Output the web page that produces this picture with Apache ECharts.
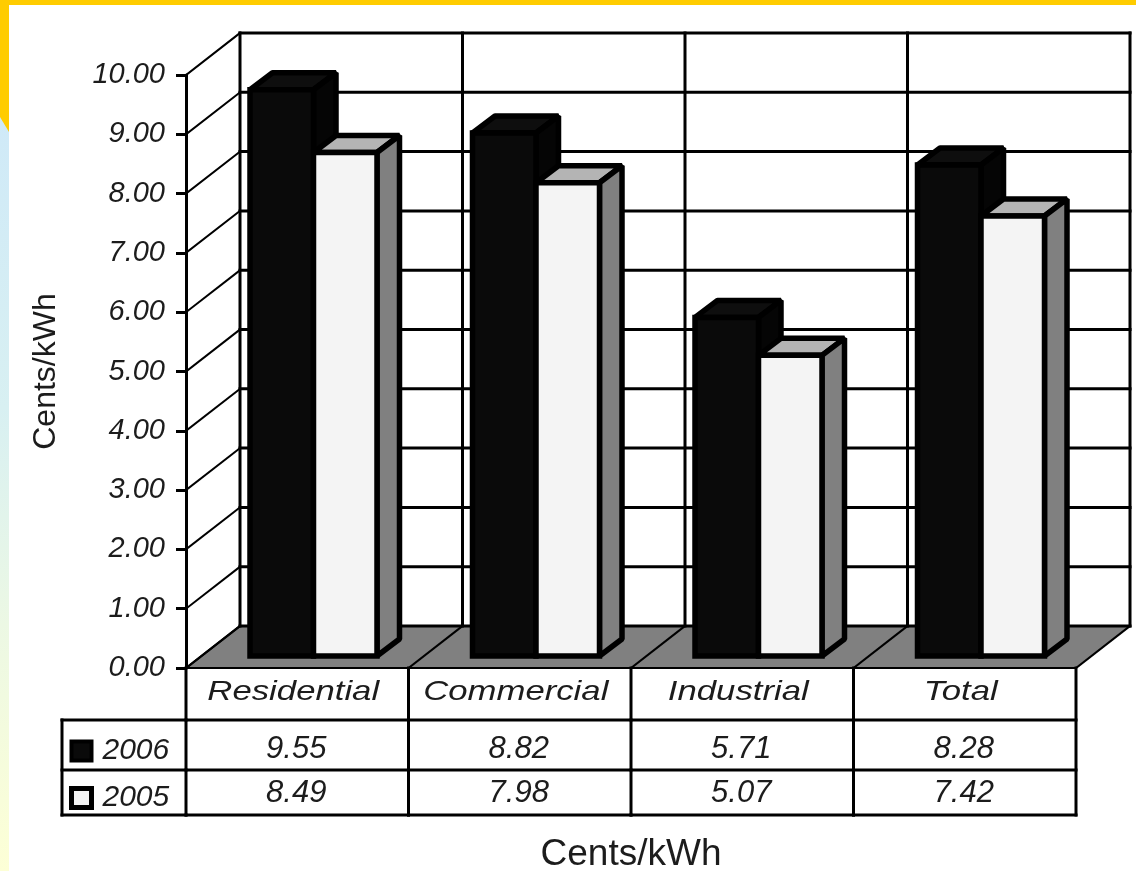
<!DOCTYPE html>
<html>
<head>
<meta charset="utf-8">
<style>html,body{margin:0;padding:0;background:#fff}#c{width:1136px;height:871px}</style>
<script src="https://cdn.jsdelivr.net/npm/echarts@6/dist/echarts.min.js"></script>
</head>
<body>
<div id="c"></div>
<script>
const categories = ['Residential', 'Commercial', 'Industrial', 'Total'];
const years = ['2006', '2005'];
const values2006 = [9.55, 8.82, 5.71, 8.28];
const values2005 = [8.49, 7.98, 5.07, 7.42];
const yTicks = [0, 1, 2, 3, 4, 5, 6, 7, 8, 9, 10];

const DX = 54, DY = 42;              // wall depth
const BASE_Y = 12;                   // bar front offset from the front edge
const BAR_LEFT = 64, BAR_W = 63.5;   // bar placement in a band
const BAR_DX = 22.5, BAR_DY = 17;    // bar depth
const SANS = '"Liberation Sans"';
const INK = '#1c1c1c';

const chart = echarts.init(document.getElementById('c'), null, {renderer: 'canvas'});

const line = (x1, y1, x2, y2, w) => ({
  type: 'line',
  shape: {x1, y1, x2, y2},
  style: {stroke: '#000', lineWidth: w || 3, lineCap: 'square'}
});

function renderWalls(params, api) {
  const p = api.coord([0, api.value(1)]);
  const x0 = p[0] - api.size([1, 0])[0] / 2;
  const right = x0 + api.size([1, 0])[0] * categories.length;
  return {type: 'group', children: [
    line(x0, p[1], x0 + DX, p[1] - DY, 2),
    line(x0 + DX, p[1] - DY, right + DX, p[1] - DY, 3)
  ]};
}

function renderFloor(params, api) {
  const i = api.value(0);
  const band = api.size([1, 0])[0];
  const p = api.coord([i, 0]);
  const top = api.coord([i, 10]);
  const x = p[0] - band / 2;
  const kids = [
    {type: 'polygon',
     shape: {points: [[x, p[1]], [x + band, p[1]], [x + band + DX, p[1] - DY], [x + DX, p[1] - DY]]},
     style: {fill: '#808080'}},
    line(x + DX, top[1] - DY, x + DX, p[1] - DY, 3),
    line(x, p[1], x + DX, p[1] - DY, 2)
  ];
  if (i === categories.length - 1) {
    kids.push(line(x + band + DX, top[1] - DY, x + band + DX, p[1] - DY, 3));
    kids.push(line(x + band, p[1], x + band + DX, p[1] - DY, 2));
  }
  return {type: 'group', children: kids};
}

function barRenderer(slot, front, topFace, side) {
  return function (params, api) {
    const i = api.value(0);
    const v = api.value(1);
    const band = api.size([1, 0])[0];
    const p0 = api.coord([i, 0]);
    const pv = api.coord([i, v]);
    const xL = p0[0] - band / 2 + BAR_LEFT + slot * BAR_W;
    const xR = xL + BAR_W;
    const yB = p0[1] - BASE_Y;
    const yT = pv[1] - BASE_Y;
    const st = {stroke: '#000', lineWidth: 5.5, lineJoin: 'bevel'};
    return {type: 'group', children: [
      {type: 'polygon',
       shape: {points: [[xL, yT], [xL + BAR_DX, yT - BAR_DY], [xR + BAR_DX, yT - BAR_DY], [xR, yT]]},
       style: Object.assign({fill: topFace}, st)},
      {type: 'polygon',
       shape: {points: [[xR, yT], [xR + BAR_DX, yT - BAR_DY], [xR + BAR_DX, yB - BAR_DY], [xR, yB]]},
       style: Object.assign({fill: side}, st)},
      {type: 'rect',
       shape: {x: xL, y: yT, width: BAR_W, height: yB - yT},
       style: Object.assign({fill: front}, st, {lineJoin: 'miter'})}
    ]};
  };
}

function renderTable(params, api) {
  const i = api.value(0);
  const band = api.size([1, 0])[0];
  const p = api.coord([i, 0]);
  const x = p[0] - band / 2;
  const y = p[1];
  const cell = (text, cx, yy, font, sx) => ({
    type: 'text', x: cx, y: yy, scaleX: sx || 1,
    style: {text, font, fill: INK, textAlign: 'center', textVerticalAlign: 'middle'}
  });
  const mid = x + band / 2;
  const kids = [
    line(x, y, x + band, y, 2),
    line(x, y + 52, x + band, y + 52, 3),
    line(x, y + 102, x + band, y + 102, 3),
    line(x, y + 147, x + band, y + 147, 3),
    line(x, y, x, y + 147, 3),
    cell(categories[i], mid - 4, y + 24, 'italic 28px ' + SANS, 1.24),
    cell(values2006[i].toFixed(2), mid - 1, y + 81, 'italic 31px ' + SANS),
    cell(values2005[i].toFixed(2), mid - 1, y + 125, 'italic 31px ' + SANS)
  ];
  if (i === 0) {
    kids.push(line(x - 124, y + 52, x, y + 52, 3));
    kids.push(line(x - 124, y + 102, x, y + 102, 3));
    kids.push(line(x - 124, y + 147, x, y + 147, 3));
    kids.push(line(x - 124, y + 52, x - 124, y + 147, 3));
  }
  if (i === categories.length - 1) {
    kids.push(line(x + band, y, x + band, y + 147, 3));
  }
  return {type: 'group', children: kids};
}

const catData = categories.map((c, i) => [i]);

chart.setOption({
  animation: false,
  backgroundColor: '#ffffff',
  graphic: [
    {type: 'rect', z: -1, shape: {x: 0, y: 100, width: 9, height: 771},
     style: {fill: new echarts.graphic.LinearGradient(0, 0, 0, 1, [
       {offset: 0, color: '#cfe9f8'},
       {offset: 0.4, color: '#d8f0f2'},
       {offset: 0.68, color: '#ecf8e4'},
       {offset: 1, color: '#fdffd6'}
     ])}},
    {type: 'polygon', z: -1, shape: {points: [[0, 0], [9, 0], [9, 132], [0, 117]]}, style: {fill: '#ffcc00'}},
    {type: 'rect', z: -1, shape: {x: 0, y: 0, width: 1136, height: 5}, style: {fill: '#ffcc00'}}
  ],
  grid: {left: 186, top: 75, width: 890, height: 593, containLabel: false, outerBoundsMode: 'none'},
  legend: {
    data: [
      {name: years[0], itemStyle: {color: '#0a0a0a', borderColor: '#000', borderWidth: 4}},
      {name: years[1], itemStyle: {color: '#f4f4f4', borderColor: '#000', borderWidth: 5}}
    ],
    orient: 'vertical',
    left: 69, top: 736,
    padding: 0,
    itemWidth: 20, itemHeight: 19, itemGap: 17,
    icon: 'rect',
    selectedMode: false,
    textStyle: {fontFamily: SANS, fontStyle: 'italic', fontSize: 30, color: INK, padding: [0, 0, 0, 6]}
  },
  xAxis: {
    type: 'category',
    data: categories,
    name: 'Cents/kWh',
    nameLocation: 'middle',
    nameGap: 168,
    nameTextStyle: {fontFamily: SANS, fontSize: 37, color: INK},
    axisLine: {show: false},
    axisTick: {show: false},
    axisLabel: {show: false},
    splitLine: {show: false}
  },
  yAxis: {
    type: 'value',
    min: 0, max: 10, interval: 1,
    name: 'Cents/kWh',
    nameLocation: 'middle',
    nameRotate: 90,
    nameGap: 124,
    nameTextStyle: {fontFamily: SANS, fontSize: 32, color: INK},
    axisLine: {show: true, lineStyle: {color: '#000', width: 3}},
    axisTick: {show: true, length: 10, lineStyle: {color: '#000', width: 3}},
    axisLabel: {
      fontFamily: SANS, fontStyle: 'italic', fontSize: 29, color: INK, margin: 21,
      formatter: v => v.toFixed(2)
    },
    splitLine: {show: false}
  },
  series: [
    {type: 'custom', silent: true, z: 1, renderItem: renderFloor, data: catData, encode: {x: 0}},
    {type: 'custom', silent: true, z: 2, renderItem: renderWalls, data: yTicks.map(t => [0, t]), encode: {x: 0, y: 1}},
    {type: 'custom', silent: true, name: '2006', z: 3,
     renderItem: barRenderer(0, '#0a0a0a', '#0e0e0e', '#050505'),
     data: values2006.map((v, i) => [i, v]), encode: {x: 0, y: 1}},
    {type: 'custom', silent: true, name: '2005', z: 4,
     renderItem: barRenderer(1, '#f4f4f4', '#b4b4b4', '#808080'),
     data: values2005.map((v, i) => [i, v]), encode: {x: 0, y: 1}},
    {type: 'custom', silent: true, z: 5, renderItem: renderTable, data: catData, encode: {x: 0}}
  ]
});
</script>
</body>
</html>
